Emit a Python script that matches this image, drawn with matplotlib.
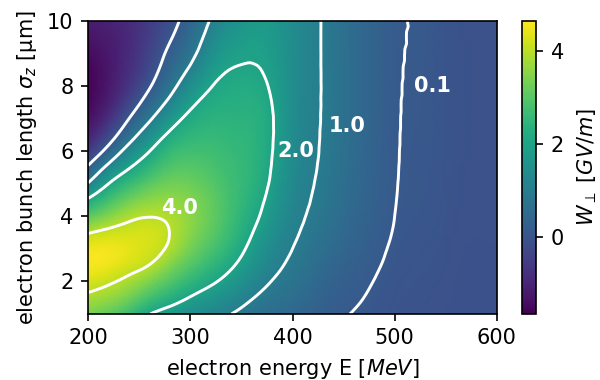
import numpy as np
import matplotlib
matplotlib.use('Agg')
import matplotlib.pyplot as plt
import matplotlib.tri as mtri

#grid
energy = [200, 220, 240, 260, 280, 300, 325, 350, 375, 400, 425, 450, 475, 500, 525, 550, 600]  #MeV
sigma_z = [1.0, 1.5, 2.0, 2.5, 3.0, 3.5, 4.0, 4.5, 5.0, 5.5,
           6.0, 6.5, 7.0, 7.5, 8.0, 8.5, 9.0, 9.5, 10.0]  #um

#W_perp [GV/m], one list per energy column (bottom to top in sigma_z)
w_200 = [3.40, 3.85, 4.30, 4.55, 4.50, 3.95, 3.05, 2.10, 1.05, 0.20, -0.58, -1.08, -1.38, -1.54, -1.60, -1.57, -1.47, -1.32, -1.15]
w_220 = [3.10, 3.65, 4.10, 4.48, 4.52, 4.15, 3.48, 2.75, 2.00, 1.20, 0.38, -0.30, -0.78, -1.08, -1.22, -1.25, -1.22, -1.15, -1.05]
w_240 = [2.65, 3.30, 3.82, 4.25, 4.40, 4.22, 3.85, 3.25, 2.60, 1.95, 1.30, 0.65, 0.10, -0.35, -0.65, -0.80, -0.87, -0.90, -0.88]
w_260 = [2.02, 2.78, 3.42, 3.99, 4.23, 4.23, 3.98, 3.55, 3.03, 2.50, 1.99, 1.45, 0.90, 0.42, 0.04, -0.22, -0.37, -0.47, -0.53]
w_280 = [1.70, 2.35, 2.95, 3.47, 3.88, 3.99, 3.88, 3.60, 3.27, 2.90, 2.55, 2.12, 1.65, 1.16, 0.76, 0.47, 0.24, 0.04, -0.12]
w_300 = [1.45, 1.97, 2.50, 2.97, 3.32, 3.52, 3.56, 3.45, 3.23, 2.98, 2.72, 2.45, 2.17, 1.83, 1.45, 1.10, 0.80, 0.58, 0.42]
w_325 = [1.17, 1.60, 2.03, 2.42, 2.75, 2.96, 3.05, 3.03, 2.93, 2.80, 2.67, 2.53, 2.39, 2.23, 2.05, 1.83, 1.60, 1.38, 1.17]
w_350 = [0.88, 1.20, 1.54, 1.85, 2.11, 2.31, 2.45, 2.53, 2.56, 2.55, 2.51, 2.45, 2.38, 2.29, 2.19, 2.05, 1.90, 1.76, 1.60]
w_375 = [0.62, 0.84, 1.06, 1.27, 1.46, 1.63, 1.80, 1.93, 2.05, 2.12, 2.16, 2.18, 2.17, 2.11, 2.02, 1.93, 1.86, 1.79, 1.72]
w_400 = [0.45, 0.61, 0.76, 0.89, 1.00, 1.10, 1.19, 1.26, 1.32, 1.37, 1.40, 1.42, 1.43, 1.43, 1.43, 1.42, 1.41, 1.40, 1.39]
w_425 = [0.26, 0.36, 0.47, 0.58, 0.69, 0.78, 0.86, 0.92, 0.96, 0.99, 1.01, 1.02, 1.03, 1.035, 1.04, 1.04, 1.04, 1.04, 1.04]
w_450 = [0.12, 0.18, 0.25, 0.33, 0.41, 0.48, 0.54, 0.59, 0.62, 0.645, 0.66, 0.67, 0.67, 0.67, 0.67, 0.665, 0.66, 0.66, 0.66]
w_475 = [0.045, 0.08, 0.12, 0.17, 0.22, 0.265, 0.30, 0.33, 0.35, 0.365, 0.375, 0.38, 0.385, 0.39, 0.39, 0.39, 0.39, 0.39, 0.395]
w_500 = [-0.03, -0.01, 0.01, 0.035, 0.06, 0.085, 0.10, 0.11, 0.118, 0.123, 0.127, 0.13, 0.133, 0.136, 0.139, 0.142, 0.146, 0.149, 0.152]
w_525 = [-0.06, -0.05, -0.035, -0.02, 0.0, 0.02, 0.035, 0.045, 0.052, 0.057, 0.06, 0.063, 0.066, 0.068, 0.07, 0.073, 0.078, 0.082, 0.085]
w_550 = [-0.08, -0.075, -0.07, -0.06, -0.05, -0.04, -0.03, -0.02, -0.015, -0.01, -0.005, 0.0, 0.0, 0.0, 0.0, 0.0, 0.0, 0.0, 0.0]
w_600 = [-0.08, -0.08, -0.08, -0.08, -0.08, -0.07, -0.07, -0.06, -0.06, -0.06, -0.06, -0.06, -0.06, -0.06, -0.06, -0.06, -0.06, -0.06, -0.06]

levels = [0.1, 1.0, 2.0, 4.0]
level_labels = ['0.1', '1.0', '2.0', '4.0']

#original looks like default style blown up ~1.5x
plt.rcParams.update({
    'font.size': 15,
    'axes.linewidth': 1.2,
    'axes.labelpad': 6.0,
    'xtick.major.size': 5.25, 'ytick.major.size': 5.25,
    'xtick.major.width': 1.2, 'ytick.major.width': 1.2,
    'xtick.major.pad': 5.25, 'ytick.major.pad': 5.25,
})

W = np.array([w_200, w_220, w_240, w_260, w_280, w_300, w_325, w_350, w_375,
              w_400, w_425, w_450, w_475, w_500, w_525, w_550, w_600]).T
E, S = np.meshgrid(energy, sigma_z)

#triangulate in normalised coords so the cubic refine isn't squashed
u = (E - 200.0) / 400.0
v = (S - 1.0) / 9.0
ny, nx = W.shape
idx = np.arange(ny * nx).reshape(ny, nx)
a = idx[:-1, :-1].ravel()
b = idx[:-1, 1:].ravel()
c = idx[1:, 1:].ravel()
d = idx[1:, :-1].ravel()
triangles = np.concatenate([np.stack([a, b, c], 1), np.stack([a, c, d], 1)])
tri = mtri.Triangulation(u.ravel(), v.ravel(), triangles)
interp = mtri.CubicTriInterpolator(tri, W.ravel(), kind='min_E')
refiner = mtri.UniformTriRefiner(tri)
tri_f, w_f = refiner.refine_field(W.ravel(), triinterpolator=interp, subdiv=3)
tri_plot = mtri.Triangulation(200.0 + 400.0 * tri_f.x, 1.0 + 9.0 * tri_f.y, tri_f.triangles)

fig = plt.figure(figsize=(6, 3.8), dpi=100)
ax = fig.add_axes([0.147, 0.174, 0.681, 0.771])
cax = fig.add_axes([0.870, 0.174, 0.024, 0.771])

im = ax.tripcolor(tri_plot, w_f, shading='gouraud', cmap='viridis', vmin=-1.66, vmax=4.65)
ax.tricontour(tri_plot, w_f, levels=levels, colors='white', linewidths=2.1)

#labels sit just to the right of the lines in the original
label_pos = [(537, 7.99), (453, 6.76), (403, 6.0), (289, 4.26)]
for (x, y), txt in zip(label_pos, level_labels):
    ax.text(x, y, txt, color='white', fontweight='bold', fontsize=15,
            ha='center', va='center')

ax.set_xlim(200, 600)
ax.set_ylim(1, 10)
ax.set_xticks([200, 300, 400, 500, 600])
ax.set_yticks([2, 4, 6, 8, 10])
ax.set_xlabel('electron energy E [$MeV$]')
ax.set_ylabel('electron bunch length $\\sigma_z$ [\u03bcm]')

cb = fig.colorbar(im, cax=cax)
cb.set_ticks([0, 2, 4])
cb.outline.set_linewidth(1.2)
cb.set_label(r'$W_\perp$ [$GV/m$]', labelpad=8)

fig.savefig('out.png', dpi=100)
